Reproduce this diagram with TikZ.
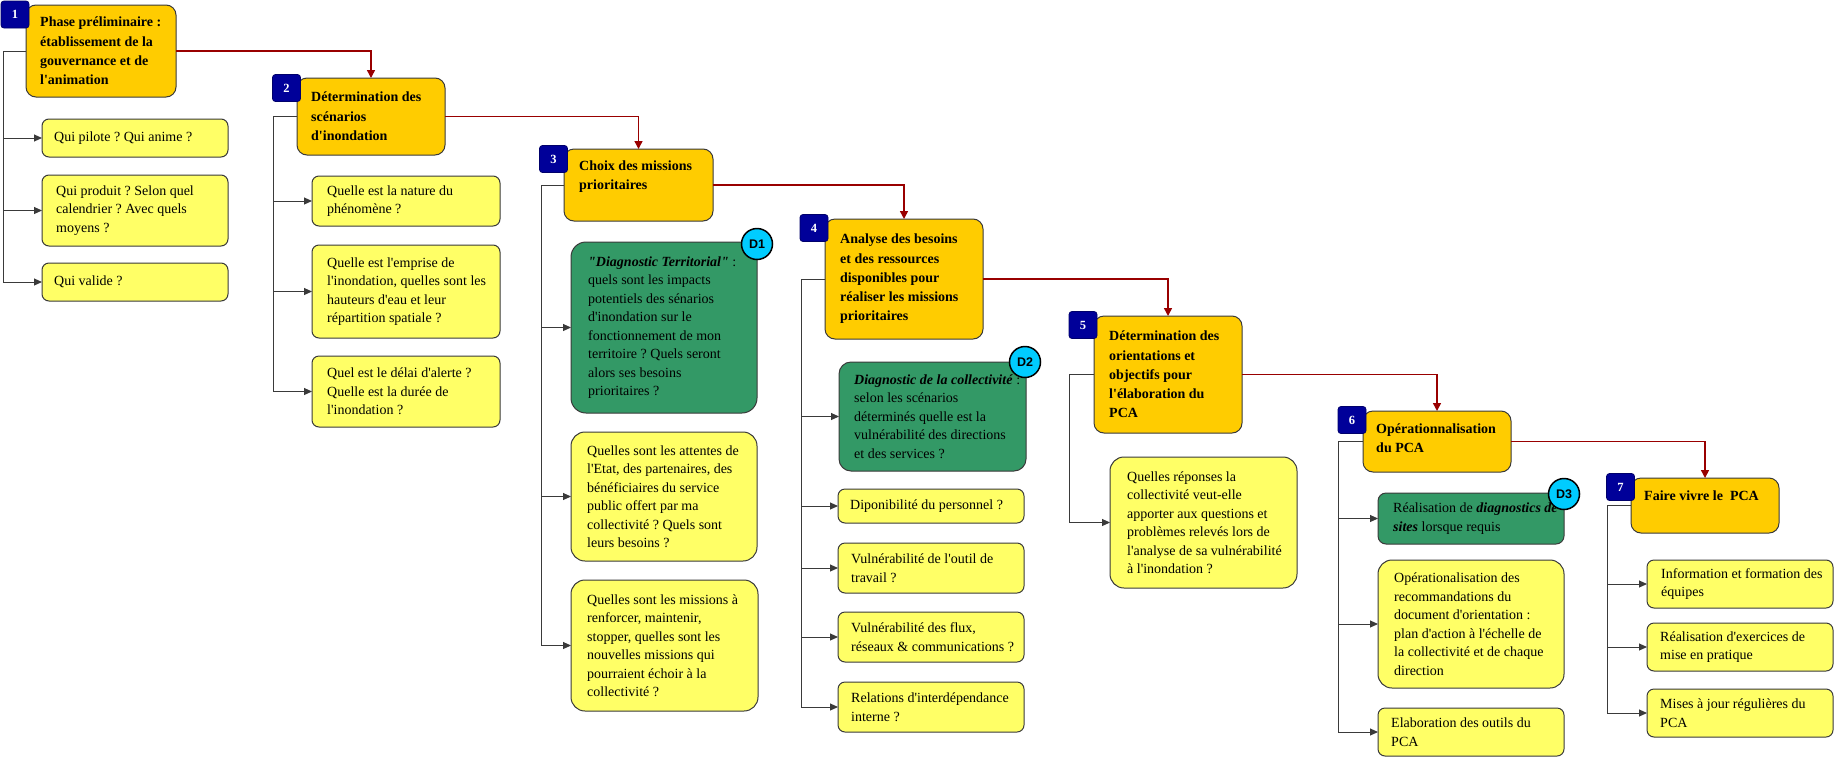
\documentclass[tikz,border=0pt]{standalone}
\usepackage{fontspec}
\setmainfont{Liberation Serif}[Ligatures=TeXOff]
\newfontfamily\dfont{Liberation Sans}
\usetikzlibrary{arrows.meta}
\definecolor{orangebox}{HTML}{FFCC00}
\definecolor{yellowbox}{HTML}{FFFF66}
\definecolor{greenbox}{HTML}{339966}
\definecolor{navyb}{HTML}{000099}
\definecolor{cyanc}{HTML}{00CCFF}
\definecolor{redline}{HTML}{990000}
\definecolor{bordergray}{HTML}{3A3A3A}
\frenchspacing
\begin{document}
\begin{tikzpicture}[x=1pt,y=-1pt,
 box/.style={draw=bordergray, line width=1pt, inner sep=0pt, outer sep=0pt, rectangle},
 obox/.style={box, fill=orangebox, rounded corners=10pt},
 ybox/.style={box, fill=yellowbox, rounded corners=7pt},
 ylbox/.style={box, fill=yellowbox, rounded corners=14pt},
 gbox/.style={box, fill=greenbox, rounded corners=12pt},
 badge/.style={draw=navyb!70!black, line width=0.8pt, fill=navyb, rounded corners=3pt, minimum width=28pt, minimum height=27pt, inner sep=0pt, text=white, font=\fontsize{12.5}{14}\selectfont\bfseries},
 dcirc/.style={circle, draw=black, line width=1.5pt, fill=cyanc, minimum size=31pt, inner sep=0pt, font=\dfont\fontsize{12.5}{14}\selectfont\bfseries},
 ttl/.style={anchor=west, align=left, inner sep=0pt, font=\fontsize{14}{19.3}\selectfont\bfseries},
 txt/.style={anchor=west, align=left, inner sep=0pt, font=\fontsize{14}{18.5}\selectfont},
 link/.style={draw=bordergray, line width=1pt},
 arr/.style={link, -{Triangle[length=8pt,width=7pt]}},
 rarr/.style={draw=redline, line width=1.5pt, -{Triangle[length=8pt,width=8pt]}},
]
\useasboundingbox (0,0) rectangle (1835,758);
\fill[white] (0,0) rectangle (1835,758);

% ---------- main step boxes ----------
\node[obox, minimum width=150pt, minimum height=92pt] (b1) at (101,51) {};
\node[obox, minimum width=148pt, minimum height=77pt] (b2) at (371,116.5) {};
\node[obox, minimum width=149pt, minimum height=72pt] (b3) at (638.5,185) {};
\node[obox, minimum width=158pt, minimum height=120pt] (b4) at (904,279) {};
\node[obox, minimum width=148pt, minimum height=117pt] (b5) at (1168,374.5) {};
\node[obox, minimum width=148pt, minimum height=61pt] (b6) at (1437,441.5) {};
\node[obox, minimum width=148pt, minimum height=55pt] (b7) at (1705,505.5) {};

\node[ttl] (t1) at ([xshift=14pt]b1.west) {Phase préliminaire :\\établissement de la\\gouvernance et de\\l'animation};
\node[ttl] (t2) at ([xshift=14pt]b2.west) {Détermination des\\scénarios\\d'inondation};
\node[ttl] (t3) at ([xshift=15pt]b3.west) {Choix des missions\\prioritaires\\\mbox{}};
\node[ttl] (t4) at ([xshift=15pt]b4.west) {Analyse des besoins\\et des ressources\\disponibles pour\\réaliser les missions\\prioritaires};
\node[ttl] (t5) at ([xshift=15pt]b5.west) {Détermination des\\orientations et\\objectifs pour\\l'élaboration du\\PCA};
\node[ttl] (t6) at ([xshift=13pt,yshift=3pt]b6.west) {Opérationnalisation\\du PCA};
\node[ttl] (t7) at ([xshift=13pt]b7.west) {Faire vivre le~~PCA\\\mbox{}};

% ---------- children of 1 ----------
\node[ybox, minimum width=186pt, minimum height=38pt] (c11) at (135,138) {};
\node[ybox, minimum width=186pt, minimum height=71pt] (c12) at (135,210.5) {};
\node[ybox, minimum width=186pt, minimum height=38pt] (c13) at (135,282) {};
\node[txt] (x11) at ([xshift=12pt]c11.west) {Qui pilote ? Qui anime ?};
\node[txt] (x12) at ([xshift=14pt]c12.west) {Qui produit ? Selon quel\\calendrier ? Avec quels\\moyens ?};
\node[txt] (x13) at ([xshift=12pt]c13.west) {Qui valide ?};

% ---------- children of 2 ----------
\node[ybox, minimum width=188pt, minimum height=50pt] (c21) at (406,201) {};
\node[ybox, minimum width=188pt, minimum height=93pt] (c22) at (406,291.5) {};
\node[ybox, minimum width=188pt, minimum height=71pt] (c23) at (406,391.5) {};
\node[txt] (x21) at ([xshift=15pt]c21.west) {Quelle est la nature du\\phénomène ?};
\node[txt] (x22) at ([xshift=15pt]c22.west) {Quelle est l'emprise de\\l'inondation, quelles sont les\\hauteurs d'eau et leur\\répartition spatiale ?};
\node[txt] (x23) at ([xshift=15pt]c23.west) {Quel est le délai d'alerte ?\\Quelle est la durée de\\l'inondation ?};

% ---------- children of 3 ----------
\node[gbox, rounded corners=15pt, minimum width=186pt, minimum height=171pt] (c31) at (664,327.5) {};
\node[ylbox, minimum width=186pt, minimum height=129pt] (c32) at (664,496.5) {};
\node[ylbox, minimum width=187pt, minimum height=131pt] (c33) at (664.5,645.5) {};
\node[txt] (x31) at ([xshift=17pt]c31.west) {\textbf{\textit{"Diagnostic Territorial"}} :\\quels sont les impacts\\potentiels des sénarios\\d'inondation sur le\\fonctionnement de mon\\territoire ? Quels seront\\alors ses besoins\\prioritaires ?};
\node[txt] (x32) at ([xshift=16pt]c32.west) {Quelles sont les attentes de\\l'Etat, des partenaires, des\\bénéficiaires du service\\public offert par ma\\collectivité ? Quels sont\\leurs besoins ?};
\node[txt] (x33) at ([xshift=16pt]c33.west) {Quelles sont les missions à\\renforcer, maintenir,\\stopper, quelles sont les\\nouvelles missions qui\\pourraient échoir à la\\collectivité ?};

% ---------- children of 4 ----------
\node[gbox, minimum width=187pt, minimum height=109pt] (c41) at (932.5,416.5) {};
\node[ybox, minimum width=186pt, minimum height=34pt] (c42) at (931,506) {};
\node[ybox, minimum width=186pt, minimum height=50pt] (c43) at (931,568) {};
\node[ybox, minimum width=186pt, minimum height=50pt] (c44) at (931,637) {};
\node[ybox, minimum width=186pt, minimum height=50pt] (c45) at (931,707) {};
\node[txt] (x41) at ([xshift=15pt]c41.west) {\textbf{\textit{Diagnostic de la collectivité}} :\\selon les scénarios\\déterminés quelle est la\\vulnérabilité des directions\\et des services ?};
\node[txt] (x42) at ([xshift=12pt]c42.west) {Diponibilité du personnel ?};
\node[txt] (x43) at ([xshift=13pt]c43.west) {Vulnérabilité de l'outil de\\travail ?};
\node[txt] (x44) at ([xshift=13pt]c44.west) {Vulnérabilité des flux,\\réseaux \& communications ?};
\node[txt] (x45) at ([xshift=13pt]c45.west) {Relations d'interdépendance\\interne ?};

% ---------- child of 5 ----------
\node[ylbox, minimum width=187pt, minimum height=131pt] (c51) at (1203.5,522.5) {};
\node[txt] (x51) at ([xshift=17pt]c51.west) {Quelles réponses la\\collectivité veut-elle\\apporter aux questions et\\problèmes relevés lors de\\l'analyse de sa vulnérabilité\\à l'inondation ?};

% ---------- children of 6 ----------
\node[gbox, rounded corners=8pt, minimum width=186pt, minimum height=51pt] (c61) at (1471,518.5) {};
\node[ylbox, minimum width=186pt, minimum height=128pt] (c62) at (1471,624) {};
\node[ybox, minimum width=186pt, minimum height=48pt] (c63) at (1471,732) {};
\node[txt] (x61) at ([xshift=15pt]c61.west) {Réalisation de \textbf{\textit{diagnostics de}}\\\textbf{\textit{sites}} lorsque requis};
\node[txt] (x62) at ([xshift=16pt]c62.west) {Opérationalisation des\\recommandations du\\document d'orientation :\\plan d'action à l'échelle de\\la collectivité et de chaque\\direction};
\node[txt] (x63) at ([xshift=13pt]c63.west) {Elaboration des outils du\\PCA};

% ---------- children of 7 ----------
\node[ybox, minimum width=186pt, minimum height=48pt] (c71) at (1740,584) {};
\node[ybox, minimum width=186pt, minimum height=48pt] (c72) at (1740,647) {};
\node[ybox, minimum width=186pt, minimum height=48pt] (c73) at (1740,713) {};
\node[txt] (x71) at ([xshift=14pt]c71.west) {Information et formation des\\équipes};
\node[txt] (x72) at ([xshift=13pt]c72.west) {Réalisation d'exercices de\\mise en pratique};
\node[txt] (x73) at ([xshift=13pt]c73.west) {Mises à jour régulières du\\PCA};

% ---------- trunk coordinates ----------
\coordinate (k1) at (3,51);
\coordinate (k2) at (273,116.5);
\coordinate (k3) at (541,185);
\coordinate (k4) at (801,279);
\coordinate (k5) at (1069,374.5);
\coordinate (k6) at (1338,441.5);
\coordinate (k7) at (1607,505.5);

\draw[link] (b1.west) -- (k1);
\draw[link] (b2.west) -- (k2);
\draw[link] (b3.west) -- (k3);
\draw[link] (b4.west) -- (k4);
\draw[link] (b5.west) -- (k5);
\draw[link] (b6.west) -- (k6);
\draw[link] (b7.west) -- (k7);

\foreach \c in {c11,c12,c13} \draw[arr] (k1) |- (\c.west);
\foreach \c in {c21,c22,c23} \draw[arr] (k2) |- (\c.west);
\foreach \c in {c31,c32,c33} \draw[arr] (k3) |- (\c.west);
\foreach \c in {c41,c42,c43,c44,c45} \draw[arr] (k4) |- (\c.west);
\foreach \c in {c51} \draw[arr] (k5) |- (\c.west);
\foreach \c in {c61,c62,c63} \draw[arr] (k6) |- (\c.west);
\foreach \c in {c71,c72,c73} \draw[arr] (k7) |- (\c.west);

% ---------- red step connectors ----------
\draw[rarr] (b1.east) -| (b2.north);
\draw[rarr] (b2.east) -| (b3.north);
\draw[rarr] (b3.east) -| (b4.north);
\draw[rarr] (b4.east) -| (b5.north);
\draw[rarr] (b5.east) -| (b6.north);
\draw[rarr] (b6.east) -| (b7.north);

% ---------- badges ----------
\node[badge] (n1) at (15,14.5) {1};
\node[badge] (n2) at (286.5,88) {2};
\node[badge] (n3) at (553.5,159) {3};
\node[badge] (n4) at (814,228) {4};
\node[badge] (n5) at (1083,325) {5};
\node[badge] (n6) at (1352,420) {6};
\node[badge] (n7) at (1620.5,487) {7};

% ---------- diagnostic circles ----------
\node[dcirc] (d1) at (757,244) {D1};
\node[dcirc] (d2) at (1025,362) {D2};
\node[dcirc] (d3) at (1564,494) {D3};
\end{tikzpicture}
\end{document}
